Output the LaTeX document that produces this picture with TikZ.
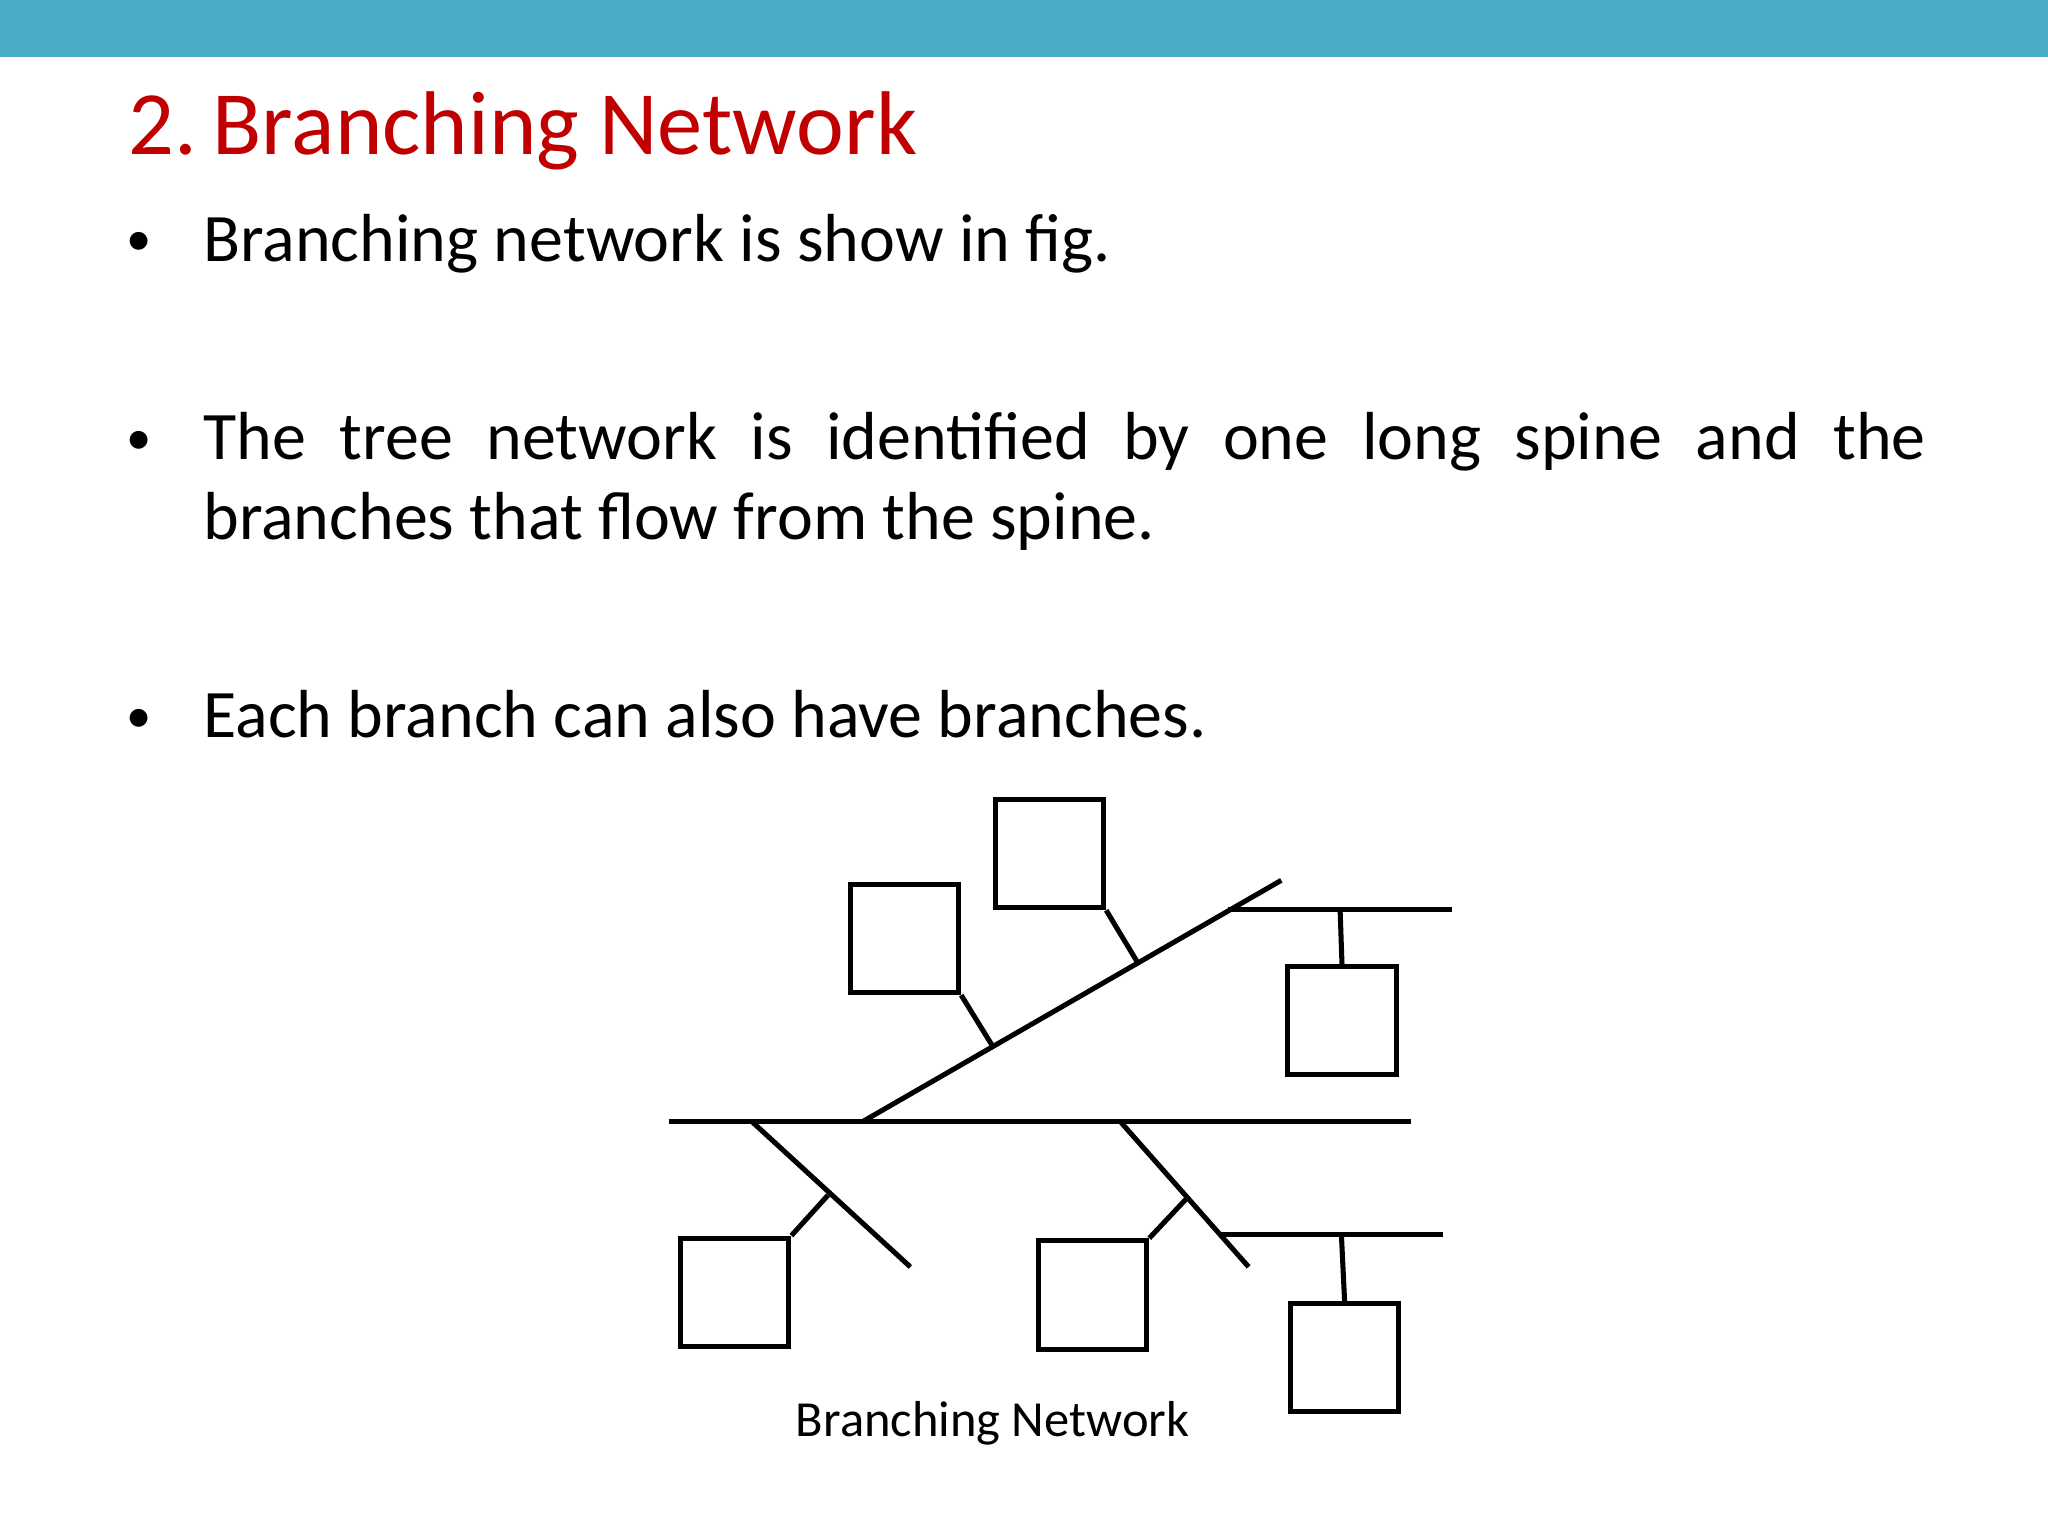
\documentclass[tikz,border=0pt]{standalone}
\usepackage{fontspec}
\setmainfont{Carlito}
\definecolor{bar}{HTML}{4BACC6}
\definecolor{ttl}{HTML}{C00000}
\begin{document}
\begin{tikzpicture}[x=0.01cm,y=-0.01cm,
  ln/.style={line width=1.1pt,black},
  bx/.style={draw,line width=1.1pt,minimum size=0.83cm,inner sep=0,anchor=north west},
  body/.style={font=\fontsize{14.8}{17.3}\selectfont,anchor=base west,inner sep=0},
  bul/.style={font=\fontsize{11}{13}\selectfont,anchor=base west,inner sep=0}]
\useasboundingbox (0,0) rectangle (1568,1176);
\fill[bar] (0,0) rectangle (1568,44);
\node[anchor=base west,inner sep=0,text=ttl,font=\fontsize{19.7}{22}\selectfont] (title) at (98,118) {2.\,Branching Network};
\node[bul] (b1) at (96,196) {•};
\node[body] (t1) at (155,200) {Branching network is show in fig.};
\node[bul] (b2) at (96,348) {•};
\node[body,text width=13.18cm,align=justify] (t2) at (155,352) {The tree network is identified by one long spine and the branches that flow from the spine.};
\node[bul] (b3) at (96,561) {•};
\node[body] (t3) at (155,565) {Each branch can also have branches.};
% network
\coordinate (sL) at (512,859); \coordinate (sR) at (1080,859);
\coordinate (dA) at (660,859); \coordinate (dB) at (981,674);
\coordinate (hL) at (940,696); \coordinate (hR) at (1112,696); \coordinate (hS) at (1026,696);
\coordinate (d1) at (760,801); \coordinate (d2) at (871,737);
\coordinate (l1a) at (576,859); \coordinate (l1b) at (697,970); \coordinate (l1s) at (634,915);
\coordinate (l2a) at (858,859); \coordinate (l2b) at (956,970); \coordinate (l2s) at (910,916);
\coordinate (gL) at (935,945); \coordinate (gR) at (1105,945); \coordinate (gS) at (1027,945);
\node[bx] (B1) at (649,675) {};
\node[bx] (B2) at (760,610) {};
\node[bx] (B3) at (984,738) {};
\node[bx] (B4) at (519,946) {};
\node[bx] (B5) at (793,948) {};
\node[bx] (B6) at (986,996) {};
\draw[ln] (sL) -- (sR);
\draw[ln] (dA) -- (dB);
\draw[ln] (hL) -- (hR);
\draw[ln] (hS) -- (B3.north);
\draw[ln] (B1.south east) -- (d1);
\draw[ln] (B2.south east) -- (d2);
\draw[ln] (l1a) -- (l1b);
\draw[ln] (l1s) -- (B4.north east);
\draw[ln] (l2a) -- (l2b);
\draw[ln] (l2s) -- (B5.north east);
\draw[ln] (gL) -- (gR);
\draw[ln] (gS) -- (B6.north);
\node[anchor=base,inner sep=0,font=\fontsize{11}{13}\selectfont] (cap) at (760,1100) {Branching Network};
\end{tikzpicture}
\end{document}
